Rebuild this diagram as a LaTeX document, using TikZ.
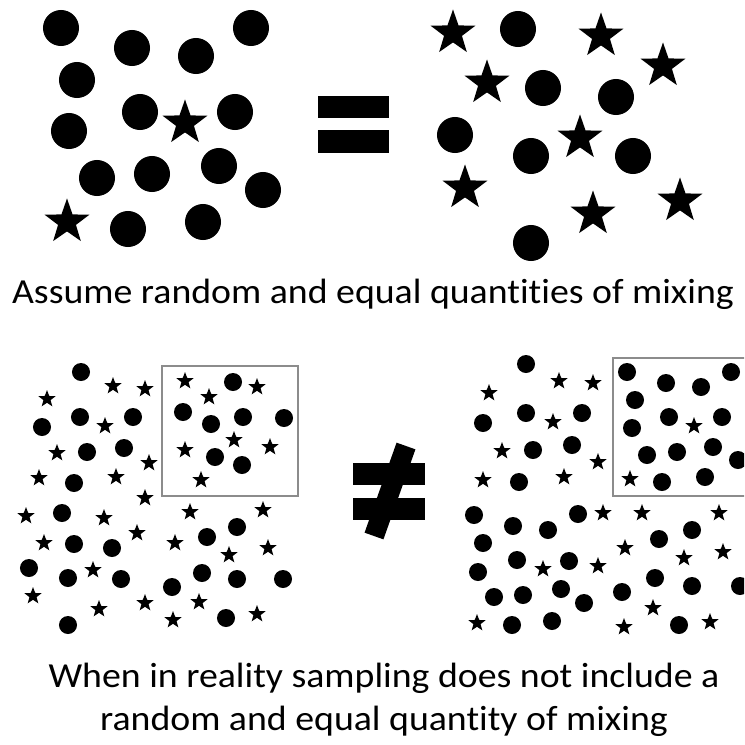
\documentclass[tikz,border=0pt]{standalone}
\usepackage{fontspec}
\setmainfont{Carlito}[FakeStretch=1.075, Ligatures=NoCommon]
\usetikzlibrary{shapes.geometric}

\tikzset{
  bigdot/.style={circle, fill=black, inner sep=0pt, minimum size=0.36cm},
  bigstar/.style={star, star points=5, star point ratio=2.5, fill=black, inner sep=0pt, minimum size=0.47cm},
  smalldot/.style={circle, fill=black, inner sep=0pt, minimum size=0.18cm},
  smallstar/.style={star, star points=5, star point ratio=2.4, fill=black, inner sep=0pt, minimum size=0.18cm},
  samplebox/.style={draw=black!45, line width=0.8pt},
  bar/.style={fill=black},
  caption/.style={font=\fontsize{10}{12.2}\selectfont, inner sep=0pt, anchor=base},
}

\begin{document}
\begin{tikzpicture}[x=0.01cm, y=-0.01cm]
    \useasboundingbox (0,0) rectangle (744,745);
    \clip (0,0) rectangle (744,745);

    % top left: mostly dots
    \foreach \x/\y [count=\i] in {61/28, 132/48, 196/56, 251/28, 77/80, 140/112, 235/112, 69/131,
        97/178, 152/174, 219/166, 263/190, 128/229, 203/222}
        \node[bigdot] (tld\i) at (\x,\y) {};
    \foreach \x/\y [count=\i] in {185/123, 67/222}
        \node[bigstar] (tls\i) at (\x,\y) {};

    % equal sign
    \fill[bar] (318,96) rectangle (389,118);
    \fill[bar] (318,130) rectangle (389,153);

    % top right: mixed
    \foreach \x/\y [count=\i] in {518/29, 543/88, 616/97, 455/135, 531/156, 633/156, 531/243}
        \node[bigdot] (trd\i) at (\x,\y) {};
    \foreach \x/\y [count=\i] in {453/33, 601/36, 663/66, 487/83, 580/138, 465/188, 593/214, 680/201}
        \node[bigstar] (trs\i) at (\x,\y) {};

    \node[caption] (top) at (373,303) {Assume random and equal quantities of mixing};

    % bottom left
    \draw[samplebox] (162,366) rectangle (298,496);
    \foreach \x/\y [count=\i] in {81/372, 42/427, 80/417, 133/417, 87/452, 124/448, 74/483, 62/513,
        74/544, 112/548, 29/568, 68/578, 121/579, 68/625, 172/587, 207/537, 237/527, 202/573,
        237/579, 283/579, 226/618, 233/382, 183/412, 211/424, 243/417, 284/418, 215/457, 242/465}
        \node[smalldot] (bld\i) at (\x,\y) {};
    \foreach \x/\y [count=\i] in {47/399, 113/386, 145/389, 105/426, 57/453, 149/463, 39/478, 116/477,
        145/498, 26/516, 104/518, 44/543, 137/533, 93/570, 33/596, 99/609, 145/603, 173/620,
        199/602, 175/543, 190/512, 229/555, 263/510, 268/548, 257/614, 185/381, 209/397, 257/387,
        185/450, 234/440, 270/447, 201/480}
        \node[smallstar] (bls\i) at (\x,\y) {};

    % not equal sign
    \fill[bar] (353,463) rectangle (425,485);
    \fill[bar] (353,498) rectangle (425,520);
    \draw[line width=0.2cm] (406,446) -- (374,536);

    % bottom right
    \draw[samplebox] (613,358) rectangle (760,496);
    \foreach \x/\y [count=\i] in {526/364, 483/423, 526/413, 582/413, 533/450, 572/445, 519/482, 474/515,
        513/526, 548/530, 578/514, 483/543, 517/560, 569/561, 478/572, 494/597, 523/595, 561/589,
        584/603, 512/625, 552/621, 622/592, 659/539, 692/530, 655/578, 692/586, 740/586, 679/625,
        627/372, 666/383, 701/387, 731/372, 635/400, 669/417, 722/417, 632/428, 647/455, 677/452,
        713/447, 738/460, 662/482, 705/477}
        \node[smalldot] (brd\i) at (\x,\y) {};
    \foreach \x/\y [count=\i] in {489/393, 559/381, 593/383, 553/422, 502/451, 598/462, 483/480, 564/477,
        603/513, 642/513, 719/513, 625/548, 684/558, 723/552, 543/569, 598/566, 477/623, 624/627,
        653/608, 710/622, 694/426, 630/479}
        \node[smallstar] (brs\i) at (\x,\y) {};

    \node[caption] (line1) at (384,687) {When in reality sampling does not include a};
    \node[caption] (line2) at (384,730) {random and equal quantity of mixing};
\end{tikzpicture}
\end{document}
